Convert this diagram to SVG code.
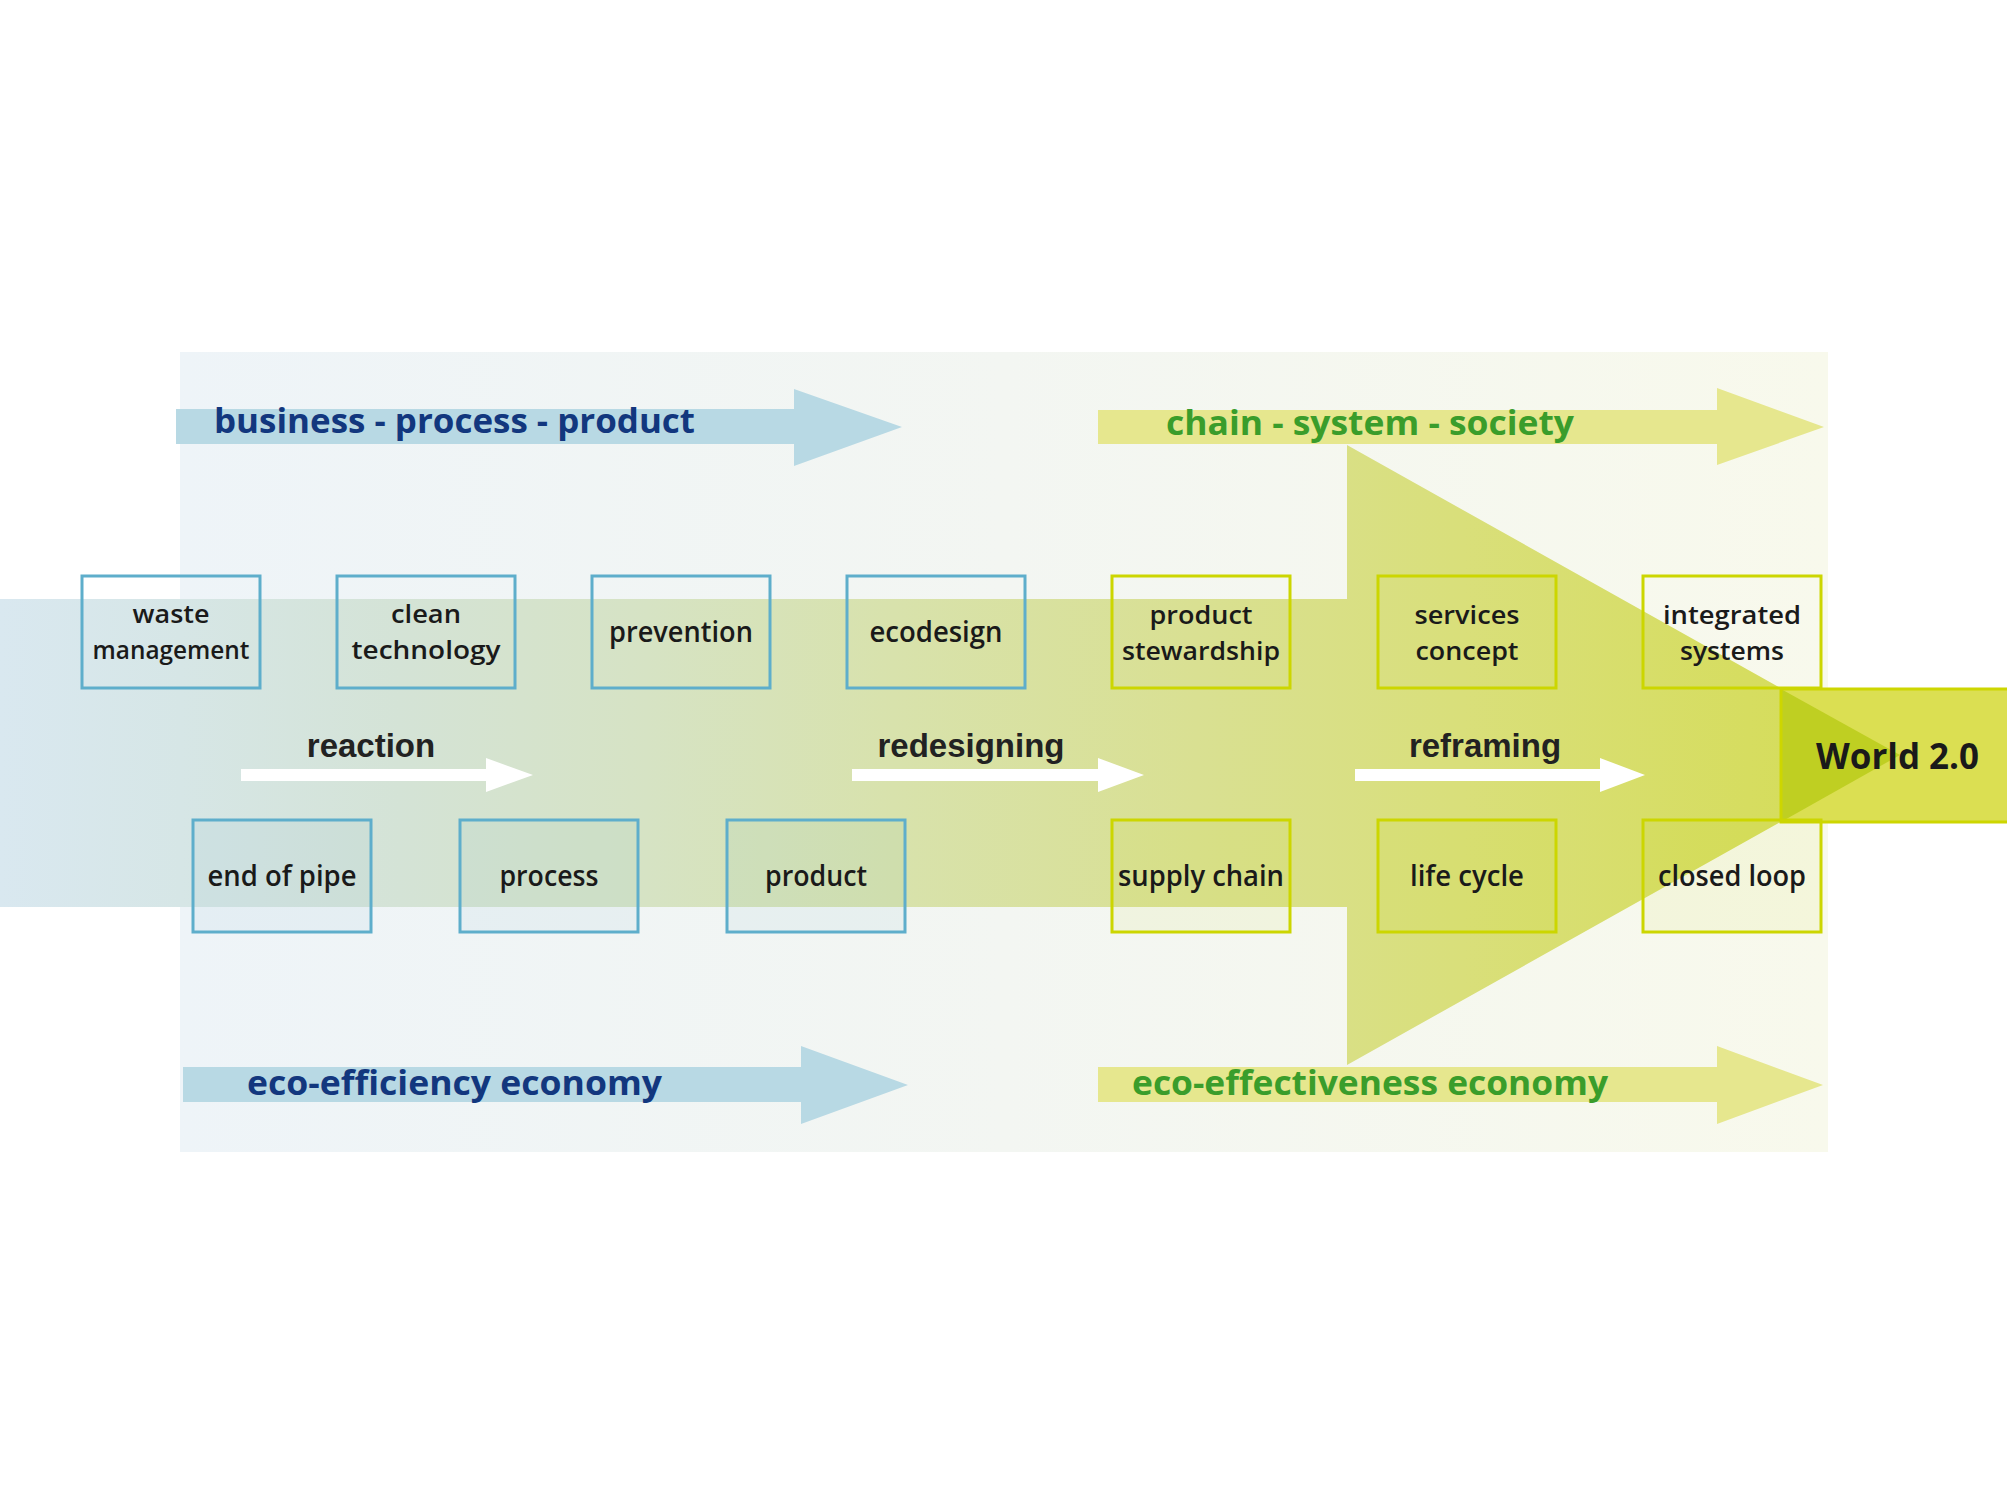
<svg xmlns="http://www.w3.org/2000/svg" width="2007" height="1505" viewBox="0 0 2007 1505">
<defs>
<linearGradient id="panelGrad" gradientUnits="userSpaceOnUse" x1="180" y1="0" x2="1828" y2="0">
<stop offset="0" stop-color="#eef4f8"/>
<stop offset="0.5" stop-color="#f3f6f2"/>
<stop offset="1" stop-color="#f8f9ec"/>
</linearGradient>
<linearGradient id="bandGrad" gradientUnits="userSpaceOnUse" x1="0" y1="0" x2="1900" y2="0">
<stop offset="0" stop-color="#d9e8f0"/>
<stop offset="0.095" stop-color="#d6e6e6"/>
<stop offset="0.21" stop-color="#d4e3d6"/>
<stop offset="0.34" stop-color="#d6e3c4"/>
<stop offset="0.47" stop-color="#d8e2ac"/>
<stop offset="0.63" stop-color="#d9e092"/>
<stop offset="0.77" stop-color="#d9df7a"/>
<stop offset="0.92" stop-color="#d6dd60"/>
<stop offset="1" stop-color="#d4dc55"/>
</linearGradient>
<style>
.blueArrow{fill:#b8d9e4}
.yellowArrow{fill:#e6e78e}
.whiteArrow{fill:#ffffff}
.boxB{fill:none;stroke:#5eaecb;stroke-width:3}
.boxY{fill:none;stroke:#ccd600;stroke-width:3}
.boxBf{fill:#5eaecb;fill-opacity:0.07;stroke:#5eaecb;stroke-width:3}
.boxYf{fill:#ccd600;fill-opacity:0.07;stroke:#ccd600;stroke-width:3}
.lbl{font-family:"Open Sans","Noto Sans","DejaVu Sans",sans-serif;font-weight:600;font-size:28px;fill:#1a1a1a;text-anchor:middle}
.lbl2{font-family:"Open Sans","Noto Sans","DejaVu Sans",sans-serif;font-weight:600;font-size:26px;fill:#1a1a1a;text-anchor:middle}
.mid{font-family:"Liberation Sans",Arial,sans-serif;font-weight:700;font-size:33px;fill:#222222;text-anchor:middle}
.headB{font-family:"Open Sans","Noto Sans",sans-serif;font-weight:700;font-size:34px;fill:#12377e}
.headG{font-family:"Open Sans","Noto Sans",sans-serif;font-weight:700;font-size:34px;fill:#3a9d2b}
.world{font-family:"Open Sans","Noto Sans",sans-serif;font-weight:700;font-size:36px;fill:#1a1a1a}
</style>
</defs>
<rect width="2007" height="1505" fill="#ffffff"/>
<rect id="panel" x="180" y="352" width="1648" height="800" fill="url(#panelGrad)"/>

<g id="connectors">
<polygon id="arrow-bpp" class="blueArrow" points="176,409 794,409 794,389 902,427 794,466 794,444 176,444"/>
<polygon id="arrow-css" class="yellowArrow" points="1098,410 1717,410 1717,388 1824,427 1717,465 1717,444 1098,444"/>
<polygon id="arrow-eff" class="blueArrow" points="183,1067 801,1067 801,1046 908,1085 801,1124 801,1102 183,1102"/>
<polygon id="arrow-eft" class="yellowArrow" points="1098,1067 1717,1067 1717,1046 1823,1085 1717,1124 1717,1102 1098,1102"/>
<polygon id="big-arrow" fill="url(#bandGrad)" points="0,599 1347,599 1347,445 1900,755 1347,1065 1347,907 0,907"/>
<polygon id="arrow-reaction" class="whiteArrow" points="241,769 486,769 486,758 533,775 486,792 486,781 241,781"/>
<polygon id="arrow-redesigning" class="whiteArrow" points="852,769 1098,769 1098,758 1144,775 1098,792 1098,781 852,781"/>
<polygon id="arrow-reframing" class="whiteArrow" points="1355,769 1600,769 1600,758 1645,775 1600,792 1600,781 1355,781"/>
</g>

<g id="world">
<rect x="1781" y="689" width="240" height="133" fill="#dbdf52"/>
<polygon points="1781,689 1900,755 1781,822" fill="#bfcf22"/>
<rect x="1781" y="689" width="240" height="133" fill="none" stroke="#cdd600" stroke-width="3"/>
<text class="world" x="1816" y="769" textLength="163" lengthAdjust="spacingAndGlyphs">World 2.0</text>
</g>

<g id="labels-flow">
<text class="headB" x="214" y="433" textLength="481" lengthAdjust="spacingAndGlyphs">business - process - product</text>
<text class="headG" x="1166" y="435" textLength="408" lengthAdjust="spacingAndGlyphs">chain - system - society</text>
<text class="headB" x="247" y="1095" textLength="415" lengthAdjust="spacingAndGlyphs">eco-efficiency economy</text>
<text class="headG" x="1132" y="1095" textLength="476" lengthAdjust="spacingAndGlyphs">eco-effectiveness economy</text>
<text class="mid" x="371" y="757">reaction</text>
<text class="mid" x="971" y="757">redesigning</text>
<text class="mid" x="1485" y="757">reframing</text>
</g>

<g id="waste-management">
<rect class="boxB" x="82" y="576" width="178" height="112"/>
<text class="lbl2" x="171" y="623" textLength="77" lengthAdjust="spacingAndGlyphs">waste</text>
<text class="lbl2" x="171" y="659" textLength="157" lengthAdjust="spacingAndGlyphs">management</text>
</g>
<g id="clean-technology">
<rect class="boxB" x="337" y="576" width="178" height="112"/>
<text class="lbl2" x="426" y="623" textLength="70" lengthAdjust="spacingAndGlyphs">clean</text>
<text class="lbl2" x="426" y="659" textLength="149" lengthAdjust="spacingAndGlyphs">technology</text>
</g>
<g id="prevention">
<rect class="boxB" x="592" y="576" width="178" height="112"/>
<text class="lbl" x="681" y="642" textLength="144" lengthAdjust="spacingAndGlyphs">prevention</text>
</g>
<g id="ecodesign">
<rect class="boxB" x="847" y="576" width="178" height="112"/>
<text class="lbl" x="936" y="642" textLength="133" lengthAdjust="spacingAndGlyphs">ecodesign</text>
</g>
<g id="product-stewardship">
<rect class="boxY" x="1112" y="576" width="178" height="112"/>
<text class="lbl2" x="1201" y="624" textLength="103" lengthAdjust="spacingAndGlyphs">product</text>
<text class="lbl2" x="1201" y="660" textLength="158" lengthAdjust="spacingAndGlyphs">stewardship</text>
</g>
<g id="services-concept">
<rect class="boxY" x="1378" y="576" width="178" height="112"/>
<text class="lbl2" x="1467" y="624" textLength="105" lengthAdjust="spacingAndGlyphs">services</text>
<text class="lbl2" x="1467" y="660" textLength="103" lengthAdjust="spacingAndGlyphs">concept</text>
</g>
<g id="integrated-systems">
<rect class="boxY" x="1643" y="576" width="178" height="112"/>
<text class="lbl2" x="1732" y="624" textLength="138" lengthAdjust="spacingAndGlyphs">integrated</text>
<text class="lbl2" x="1732" y="660" textLength="104" lengthAdjust="spacingAndGlyphs">systems</text>
</g>

<g id="end-of-pipe">
<rect class="boxBf" x="193" y="820" width="178" height="112"/>
<text class="lbl" x="282" y="886" textLength="149" lengthAdjust="spacingAndGlyphs">end of pipe</text>
</g>
<g id="process">
<rect class="boxBf" x="460" y="820" width="178" height="112"/>
<text class="lbl" x="549" y="886" textLength="99" lengthAdjust="spacingAndGlyphs">process</text>
</g>
<g id="product">
<rect class="boxBf" x="727" y="820" width="178" height="112"/>
<text class="lbl" x="816" y="886" textLength="102" lengthAdjust="spacingAndGlyphs">product</text>
</g>
<g id="supply-chain">
<rect class="boxYf" x="1112" y="820" width="178" height="112"/>
<text class="lbl" x="1201" y="886" textLength="166" lengthAdjust="spacingAndGlyphs">supply chain</text>
</g>
<g id="life-cycle">
<rect class="boxYf" x="1378" y="820" width="178" height="112"/>
<text class="lbl" x="1467" y="886" textLength="114" lengthAdjust="spacingAndGlyphs">life cycle</text>
</g>
<g id="closed-loop">
<rect class="boxYf" x="1643" y="820" width="178" height="112"/>
<text class="lbl" x="1732" y="886" textLength="148" lengthAdjust="spacingAndGlyphs">closed loop</text>
</g>
</svg>
